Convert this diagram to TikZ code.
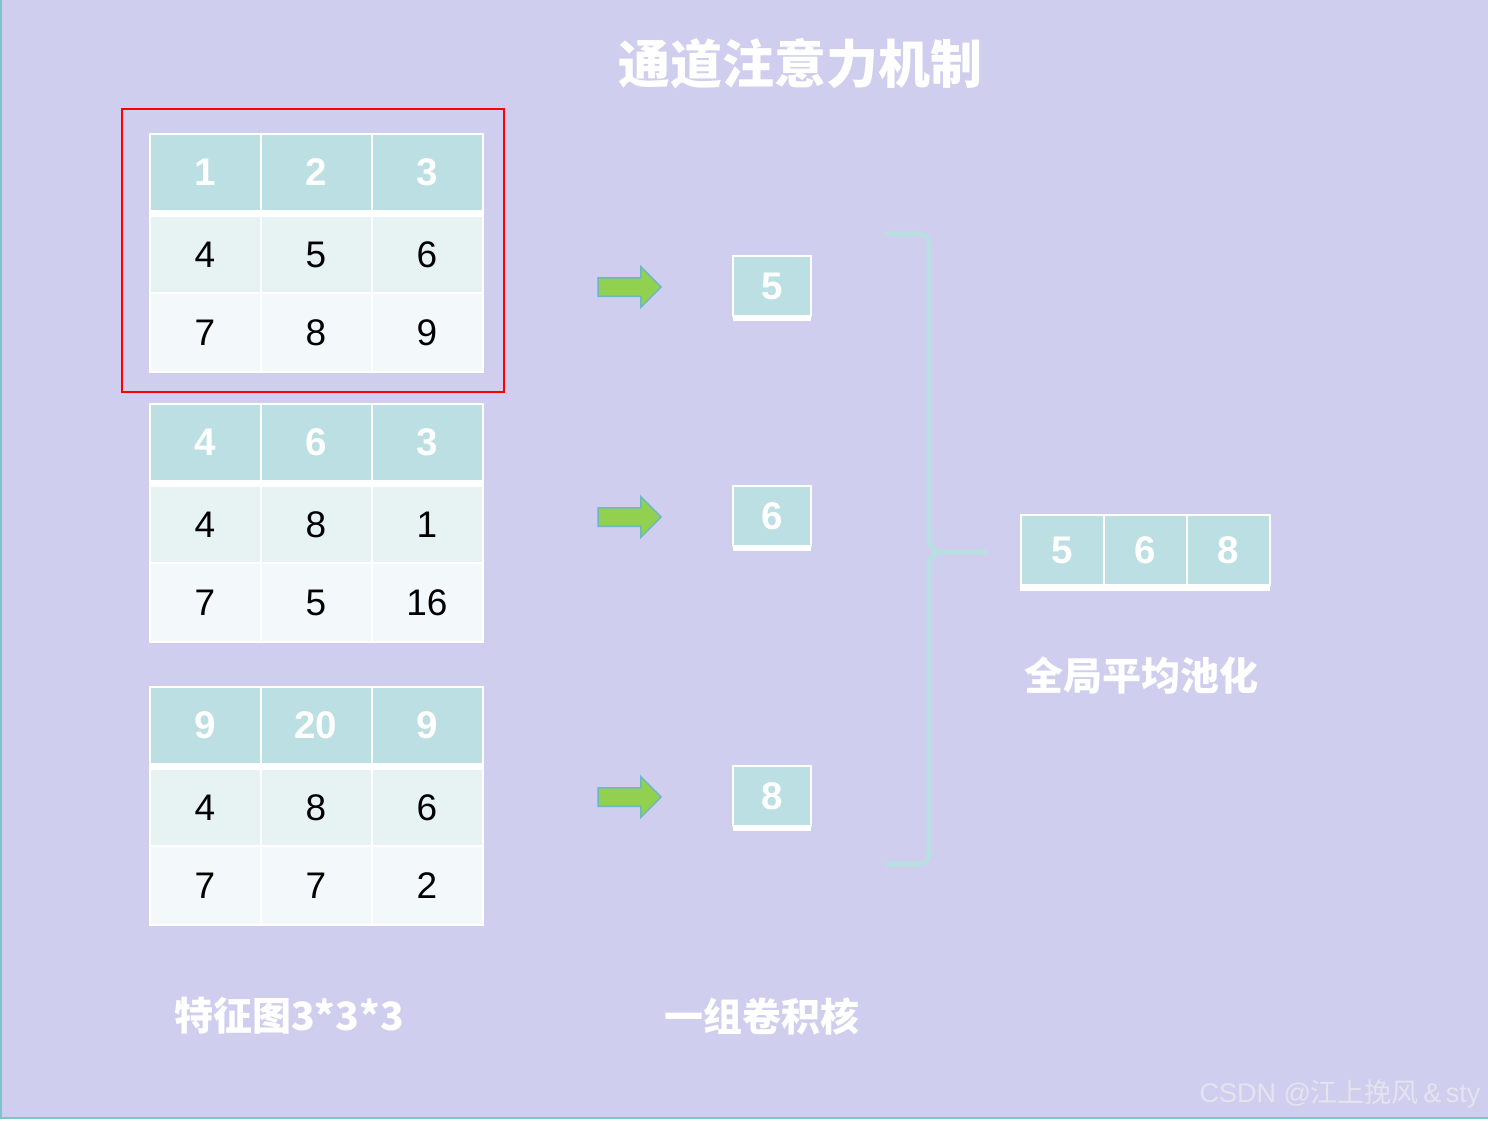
\documentclass[tikz,border=0pt]{standalone}
\usepackage{fontspec}
\setmainfont{Liberation Sans}
\newfontfamily\cjk{Noto Sans CJK SC}
\usetikzlibrary{shapes.arrows}
\definecolor{bgc}{HTML}{CFCEEE}
\definecolor{headc}{HTML}{BBDFE2}
\definecolor{rowa}{HTML}{E7F2F3}
\definecolor{rowb}{HTML}{F3F8FA}
\definecolor{arrg}{HTML}{92D050}
\definecolor{arre}{HTML}{6CB6C6}
\definecolor{bracec}{HTML}{B9DFE0}
\definecolor{framec}{HTML}{7EC4CC}
\definecolor{markc}{HTML}{E4E4EE}
\begin{document}
\begin{tikzpicture}[x=1pt,y=-1pt,
        hcell/.style={draw=white, line width=2pt, fill=headc, minimum width=111pt, minimum height=77pt, inner sep=0pt, text=white, font=\fontsize{38.5}{38}\selectfont\bfseries},
        acell/.style={hcell, fill=rowa, text=black, font=\fontsize{37}{37}\selectfont},
        bcell/.style={acell, fill=rowb, minimum height=79pt},
        kcell/.style={hcell, minimum width=78pt, minimum height=60pt},
        pcell/.style={hcell, minimum width=83pt, minimum height=70pt},
        arrowshape/.style={single arrow, fill=arrg, draw=arre, line width=1.5pt, minimum height=63pt, inner xsep=0pt, inner ysep=8.5pt, single arrow head extend=11pt},
        brace/.style={draw=bracec, line width=5pt, line cap=round},
        ttl/.style={text=white, font=\cjk\fontsize{52}{52}\selectfont\bfseries},
        lbl/.style={text=white, font=\cjk\fontsize{39}{39}\selectfont\bfseries},
        wm/.style={text=markc, font=\fontsize{27}{27}\selectfont},
    ]
    \useasboundingbox (0,0) rectangle (1488,1121);
    % background and frame
    \fill[white] (0,0) rectangle (1488,1121);
    \fill[bgc] (0,0) rectangle (1488,1118);
    \draw[framec, line width=1.5pt] (0.75,0) -- (0.75,1118) -- (1488,1118);

    \node[ttl] (title) at (800,64) {通道注意力机制};

    % feature maps, arrows and kernels
    \foreach \ty/\ky/\la/\lb/\lc/\ma/\mb/\mc/\na/\nb/\nc/\k [count=\t] in
        {134/286/1/2/3/4/5/6/7/8/9/5, 404/516/4/6/3/4/8/1/7/5/16/6, 687/796/9/20/9/4/8/6/7/7/2/8}{
        \fill[white] (149,\ty-1) rectangle (484,\ty+239);
        \node[hcell] (h\t a) at (205,\ty+38.5) {\la};
        \node[hcell] (h\t b) at (316,\ty+38.5) {\lb};
        \node[hcell] (h\t c) at (427,\ty+38.5) {\lc};
        \node[acell] (m\t a) at (205,\ty+120.5) {\ma};
        \node[acell] (m\t b) at (316,\ty+120.5) {\mb};
        \node[acell] (m\t c) at (427,\ty+120.5) {\mc};
        \node[bcell] (n\t a) at (205,\ty+198.5) {\na};
        \node[bcell] (n\t b) at (316,\ty+198.5) {\nb};
        \node[bcell] (n\t c) at (427,\ty+198.5) {\nc};
        \node[arrowshape] (arr\t) at (625,\ky+1) {};
        \fill[white] (733,\ky-30) rectangle (811,\ky+35);
        \node[kcell] (k\t) at (772,\ky) {\k};
    }
    \draw[red, line width=2pt] (122,109) rectangle (504,392);

    % brace
    \coordinate (bt) at (887,234);
    \coordinate (bm) at (986,552);
    \coordinate (bb) at (887,864);
    \draw[brace] (bt) -- (920,234) to[out=0,in=90] (929,244) -- (929,540)
        to[out=-90,in=180] (944,552) -- (bm);
    \draw[brace] (bb) -- (920,864) to[out=0,in=-90] (929,854) -- (929,564)
        to[out=90,in=180] (944,552);

    % pooled vector
    \fill[white] (1020,514) rectangle (1270,591);
    \node[pcell] (p1) at (1062,550) {5};
    \node[pcell] (p2) at (1145,550) {6};
    \node[pcell] (p3) at (1228,550) {8};

    \node[lbl] (pool) at (1141,676) {全局平均池化};
    \node[lbl] (fmap) at (289,1016) {特征图3*3*3};
    \node[lbl] (kern) at (762,1016) {一组卷积核};
    \node[wm, anchor=east] (mark) at (1484,1094) {CSDN @{\cjk 江上挽风}\,\&\,sty};
\end{tikzpicture}
\end{document}
